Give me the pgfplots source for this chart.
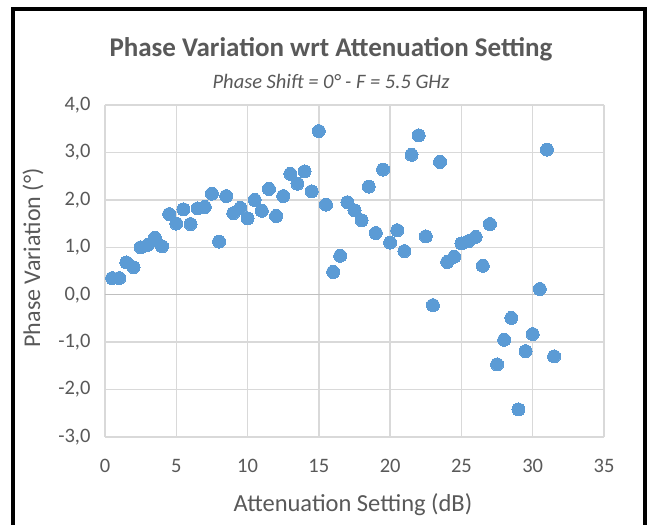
\documentclass[border=0pt]{standalone}
\usepackage{pgfplots}
\pgfplotsset{compat=1.18}
\usepackage{fontspec}
\setmainfont{Carlito}
\definecolor{txt}{HTML}{595959}
\definecolor{gridc}{HTML}{D9D9D9}
\definecolor{zeroc}{HTML}{BFBFBF}
\definecolor{ptc}{HTML}{5B9BD5}
\pgfplotstableread{
x y
0.5 0.35
1 0.35
1.5 0.68
2 0.58
2.5 1.0
3 1.05
3.5 1.2
4 1.02
4.5 1.7
5 1.5
5.5 1.8
6 1.49
6.5 1.82
7 1.85
7.5 2.13
8 1.12
8.5 2.08
9 1.72
9.5 1.83
10 1.61
10.5 2.0
11 1.77
11.5 2.23
12 1.66
12.5 2.08
13 2.55
13.5 2.34
14 2.6
14.5 2.18
15 3.45
15.5 1.9
16 0.48
16.5 0.82
17 1.95
17.5 1.78
18 1.57
18.5 2.28
19 1.3
19.5 2.64
20 1.1
20.5 1.36
21 0.92
21.5 2.95
22 3.36
22.5 1.23
23 -0.22
23.5 2.8
24 0.69
24.5 0.8
25 1.08
25.5 1.13
26 1.22
26.5 0.61
27 1.49
27.5 -1.47
28 -0.95
28.5 -0.49
29 -2.42
29.5 -1.19
30 -0.83
30.5 0.12
31 3.06
31.5 -1.3
}\datatable
\begin{document}
\begin{tikzpicture}[x=1pt,y=1pt]
\useasboundingbox (0,0) rectangle (654,525);
\fill[white] (0,0) rectangle (654,525);
\draw[line width=3.5pt, black] (13,-10) -- (13,516) -- (645,516) -- (645,-10);
\begin{axis}[at={(105pt,88pt)}, anchor=south west, scale only axis,
  width=499pt, height=332pt,
  xmin=0, xmax=35, ymin=-3, ymax=4,
  xtick={0,5,...,35}, ytick={-3,-2,...,4},
  grid=major, major grid style={draw=gridc, line width=1.3pt},
  axis line style={draw=none}, tick style={draw=none},
  /pgf/number format/assume math mode=true,
  ticklabel style={font=\fontsize{20.5}{24}\selectfont, text=txt},
  yticklabel style={/pgf/number format/.cd, fixed, fixed zerofill, precision=1, use comma},
  yticklabel shift=11pt,
  xticklabel shift=19pt,
  clip=false,
]
\draw[zeroc, line width=1.5pt] (axis cs:0,0) -- (axis cs:35,0);
\addplot[only marks, mark=*, color=ptc, mark size=6.5pt, mark options={fill=ptc, draw=ptc, line width=0pt}] table[x=x,y=y] {\datatable};
\end{axis}
\node[text=txt, font=\fontsize{27}{32}\selectfont\bfseries] at (331,476) {Phase Variation wrt Attenuation Setting};
\node[text=txt, font=\fontsize{20.5}{24}\selectfont\itshape] at (331,444) {Phase Shift = 0° - F = 5.5 GHz};
\node[text=txt, font=\fontsize{24}{28}\selectfont, rotate=90] at (33,267) {Phase Variation (°)};
\node[text=txt, font=\fontsize{24.5}{28}\selectfont] at (353,20) {Attenuation Setting (dB)};
\end{tikzpicture}
\end{document}
